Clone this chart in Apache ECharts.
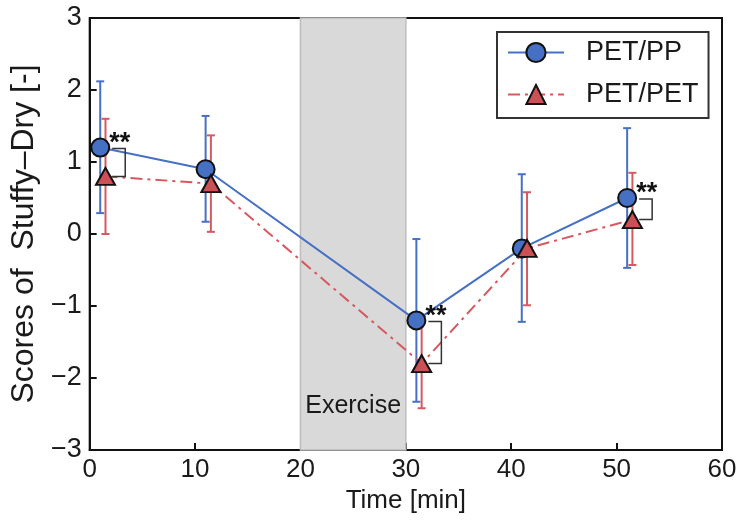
<!DOCTYPE html>
<html>
<head>
<meta charset="utf-8">
<script src="https://cdn.jsdelivr.net/npm/echarts@6/dist/echarts.min.js"></script>
<style>
  html, body { margin: 0; padding: 0; background: #fff; }
  #chart { width: 742px; height: 520px; }
</style>
</head>
<body>
<div id="chart"></div>
<script>
// time points (min)
const ppX = [1, 11, 31, 41, 51];
const ppMean = [1.2, 0.9, -1.2, -0.2, 0.5];
const ppUpper = [2.12, 1.64, -0.07, 0.83, 1.47];
const ppLower = [0.29, 0.17, -2.33, -1.22, -0.47];

const petX = [1.5, 11.5, 31.5, 41.5, 51.5];
const petMean = [0.8, 0.7, -1.8, -0.2, 0.2];
const petUpper = [1.6, 1.37, -1.15, 0.58, 0.85];
const petLower = [0.0, 0.03, -2.42, -0.99, -0.43];

// ** marks (index into the points)
const sigIdx = [0, 2, 4];
const exercise = [20, 30];

const FONT = "'Liberation Sans', Arial, sans-serif";
const BLUE = "#4670c4";
const RED = "#d45a60";

const chart = echarts.init(document.getElementById("chart"));

// error bar with caps
function errorBar(color) {
  return function (params, api) {
    const x = api.value(0);
    const top = api.coord([x, api.value(1)]);
    const bot = api.coord([x, api.value(2)]);
    const w = 4;
    const st = { stroke: color, lineWidth: 2 };
    return {
      type: "group",
      children: [
        { type: "line", shape: { x1: top[0], y1: top[1], x2: bot[0], y2: bot[1] }, style: st },
        { type: "line", shape: { x1: top[0] - w, y1: top[1], x2: top[0] + w, y2: top[1] }, style: st },
        { type: "line", shape: { x1: bot[0] - w, y1: bot[1], x2: bot[0] + w, y2: bot[1] }, style: st }
      ]
    };
  };
}

chart.setOption({
  animation: false,
  backgroundColor: "#fff",
  grid: {
    left: 88, right: 20, top: 18, bottom: 70,
    show: true, borderColor: "#111", borderWidth: 2
  },
  legend: {
    data: ["PET/PP", "PET/PET"],
    orient: "vertical",
    left: 497, top: 32,
    padding: [7, 10, 10, 10],
    itemWidth: 56, itemHeight: 24, itemGap: 15,
    borderColor: "#333", borderWidth: 2, borderRadius: 0,
    textStyle: { fontFamily: FONT, fontSize: 27, color: "#1a1a1a", padding: [0, 0, 0, 17] }
  },
  xAxis: {
    type: "value", min: 0, max: 60, interval: 10,
    name: "Time [min]", nameLocation: "middle", nameGap: 33,
    nameTextStyle: { fontFamily: FONT, fontSize: 26, color: "#1a1a1a" },
    axisLine: { show: true, onZero: false, lineStyle: { color: "#111", width: 2 } },
    axisTick: { show: true, inside: true, length: 7, lineStyle: { color: "#111", width: 2 } },
    axisLabel: { fontFamily: FONT, fontSize: 26, color: "#1a1a1a", margin: 7 },
    splitLine: { show: false }
  },
  yAxis: {
    type: "value", min: -3, max: 3, interval: 1,
    name: "Scores of  Stuffy\u2013Dry [-]", nameLocation: "middle", nameGap: 40,
    nameTextStyle: { fontFamily: FONT, fontSize: 32, color: "#1a1a1a" },
    axisLine: { show: true, onZero: false, lineStyle: { color: "#111", width: 2 } },
    axisTick: { show: true, inside: true, length: 7, lineStyle: { color: "#111", width: 2 } },
    axisLabel: {
      fontFamily: FONT, fontSize: 27, color: "#1a1a1a", margin: 8,
      formatter: (v) => String(v).replace("-", "\u2212")
    },
    splitLine: { show: false }
  },
  series: [
    {
      name: "PET/PP-err", type: "custom", z: 3,
      renderItem: errorBar(BLUE),
      encode: { x: 0, y: [1, 2] },
      data: ppX.map((x, i) => [x, ppUpper[i], ppLower[i]])
    },
    {
      name: "PET/PET-err", type: "custom", z: 4,
      renderItem: errorBar(RED),
      encode: { x: 0, y: [1, 2] },
      data: petX.map((x, i) => [x, petUpper[i], petLower[i]])
    },
    {
      name: "PET/PP", type: "line", z: 5,
      data: ppX.map((x, i) => [x, ppMean[i]]),
      symbol: "circle", symbolSize: 18,
      itemStyle: { color: BLUE, borderColor: "#111", borderWidth: 2 },
      lineStyle: { color: BLUE, width: 2 },
      markArea: {
        silent: true,
        itemStyle: { color: "#d9d9d9", borderColor: "#bdbdbd", borderWidth: 1.5 },
        label: {
          show: true, position: "insideBottom", distance: 32,
          fontFamily: FONT, fontSize: 25, color: "#1a1a1a"
        },
        data: [[{ name: "Exercise", xAxis: exercise[0] }, { xAxis: exercise[1] }]]
      }
    },
    {
      name: "PET/PET", type: "line", z: 6,
      data: petX.map((x, i) => [x, petMean[i]]),
      symbol: "triangle", symbolSize: [19, 17],
      itemStyle: { color: "#cc5056", borderColor: "#111", borderWidth: 2 },
      lineStyle: { color: RED, width: 2, type: [12, 5, 3, 5] }
    },
    {
      name: "sig", type: "custom", z: 7,
      encode: { x: 0, y: [1, 2] },
      data: sigIdx.map((i) => [ppX[i], ppMean[i], petMean[i]]),
      renderItem: function (params, api) {
        const a = api.coord([api.value(0), api.value(1)]);
        const b = api.coord([api.value(0), api.value(2)]);
        const x0 = a[0] + 12, x1 = a[0] + 25;
        return {
          type: "group",
          children: [
            {
              type: "polyline",
              shape: { points: [[x0, a[1] + 1], [x1, a[1] + 1], [x1, b[1]], [x0, b[1]]] },
              style: { stroke: "#333", lineWidth: 1.5, fill: null }
            },
            {
              type: "text",
              style: {
                x: a[0] + 9, y: a[1] - 4, text: "**",
                font: "bold 27px " + FONT, fill: "#111",
                textAlign: "left", textVerticalAlign: "middle"
              }
            }
          ]
        };
      }
    }
  ]
});
</script>
</body>
</html>
